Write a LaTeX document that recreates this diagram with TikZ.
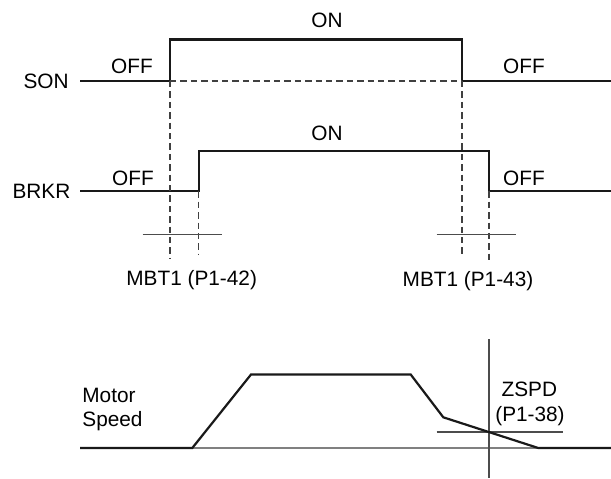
\documentclass[tikz,border=0pt]{standalone}
\usepackage{fontspec}
\setmainfont{Liberation Sans}
\begin{document}
\begin{tikzpicture}[x=0.5pt,y=-0.5pt,
  sig/.style={line width=1.1pt, color=black!90, line join=miter},
  guide/.style={line width=0.6pt, color=black!75, dash pattern=on 3.2pt off 2pt},
  thinline/.style={line width=0.55pt, color=black!70},
  axisline/.style={line width=0.7pt, color=black!50},
  lbl/.style={inner sep=0pt, anchor=base, font=\fontsize{10.4}{12}\selectfont},
  lble/.style={lbl, anchor=base east},
  lblw/.style={lbl, anchor=base west}]
\useasboundingbox (0,0) rectangle (611,478);

% ---- SON signal
\coordinate (s0) at (80,81);
\coordinate (s1) at (170,81);
\coordinate (s2) at (170,39.5);
\coordinate (s3) at (462,39.5);
\coordinate (s4) at (462,81);
\coordinate (s5) at (611,81);
\draw[sig] (s0) -- (s1) -- (s2) -- (s3) -- (s4) -- (s5);
\draw[guide] (s1) -- (s4);

% ---- BRKR signal
\coordinate (b0) at (80,191.3);
\coordinate (b1) at (198.7,191.3);
\coordinate (b2) at (198.7,150.7);
\coordinate (b3) at (489,150.7);
\coordinate (b4) at (489,191.3);
\coordinate (b5) at (611,191.3);
\draw[sig] (b0) -- (b1) -- (b2) -- (b3) -- (b4) -- (b5);

% ---- dashed guides
\coordinate (g1) at (170,258);
\coordinate (g2) at (198.7,254);
\coordinate (g3) at (462,257);
\coordinate (g4) at (489,263);
\draw[guide] (s1) -- (g1);
\draw[guide] (b1) -- (g2);
\draw[guide] (s4) -- (g3);
\draw[guide] (b4) -- (g4);

% ---- tick lines
\coordinate (t1a) at (142.7,234.7);
\coordinate (t1b) at (221.7,234.7);
\coordinate (t2a) at (436.7,234.7);
\coordinate (t2b) at (516,234.7);
\draw[thinline] (t1a) -- (t1b);
\draw[thinline] (t2a) -- (t2b);

% ---- motor speed
\coordinate (m0) at (80,448);
\coordinate (m1) at (192.3,448);
\coordinate (m2) at (251,374.5);
\coordinate (m3) at (410.7,374.5);
\coordinate (m4) at (443.3,417.3);
\coordinate (m5) at (538.3,448);
\coordinate (m6) at (611,448);
\draw[axisline] (m1) -- (m5);
\coordinate (v0) at (489,339.3);
\coordinate (v1) at (489,478);
\draw[thinline] (v0) -- (v1);
\coordinate (z0) at (436.7,432);
\coordinate (z1) at (562.7,432);
\draw[thinline] (z0) -- (z1);
\draw[sig] (m0) -- (m1) -- (m2) -- (m3) -- (m4) -- (m5) -- (m6);

% ---- labels
\node[lble] (son) at (69,88.5) {SON};
\node[lble] (brkr) at (70.7,198.5) {BRKR};
\node[lbl] (on1) at (327,27.5) {ON};
\node[lbl] (on2) at (327,140.5) {ON};
\node[lbl] (off1) at (132,73.5) {OFF};
\node[lbl] (off2) at (524,73.5) {OFF};
\node[lbl] (off3) at (133,185) {OFF};
\node[lbl] (off4) at (524,185) {OFF};
\node[lbl] (mbt1) at (191.7,285.5) {MBT1 (P1-42)};
\node[lbl] (mbt2) at (468,286) {MBT1 (P1-43)};
\node[lblw] (motor) at (82,402) {Motor};
\node[lblw] (speed) at (82,426.5) {Speed};
\node[lbl] (zspd) at (529.3,396) {ZSPD};
\node[lbl] (p138) at (530,421.7) {(P1-38)};
\end{tikzpicture}
\end{document}
